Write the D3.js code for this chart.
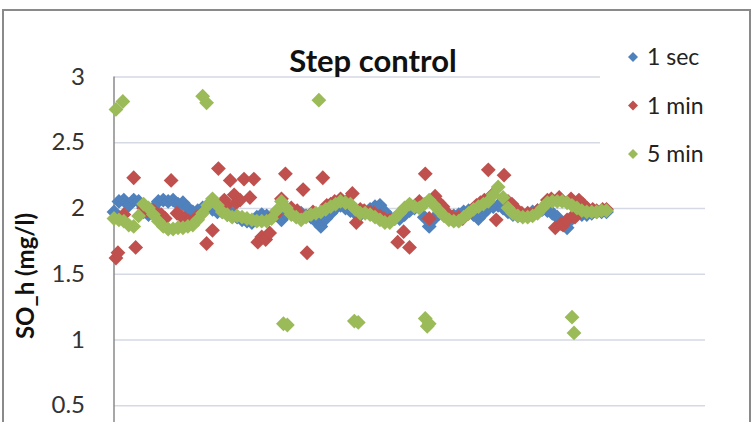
<!DOCTYPE html>
<html>
<head>
<meta charset="utf-8">
<script src="https://cdn.jsdelivr.net/npm/d3@7"></script>
<style>
    body { margin: 0; background: white; }
    text { font-family: Lato, "Liberation Sans", sans-serif; }
</style>
</head>
<body>
<script>
// time grid shared by 1 sec and 5 min (read every ~5 px off the picture)
const times = [0, 2.5, 5, 7.5, 10, 12.5, 15, 17.5, 20, 22.5, 25, 27.5, 30, 32.5, 35, 37.5, 40, 42.5, 45, 47.5,
    50, 52.5, 55, 57.5, 60, 62.5, 65, 67.5, 70, 72.5, 75, 77.5, 80, 82.5, 85, 87.5, 90, 92.5, 95, 97.5,
    100, 102.5, 105, 107.5, 110, 112.5, 115, 117.5, 120, 122.5, 125, 127.5, 130, 132.5, 135, 137.5, 140, 142.5, 145, 147.5,
    150, 152.5, 155, 157.5, 160, 162.5, 165, 167.5, 170, 172.5, 175, 177.5, 180, 182.5, 185, 187.5, 190, 192.5, 195, 197.5,
    200, 202.5, 205, 207.5, 210, 212.5, 215, 217.5, 220, 222.5, 225, 227.5, 230, 232.5, 235, 237.5, 240, 242.5, 245, 247.5, 250]

const secVals = [1.97, 2.05, 2.06, 2.02, 2.06, 2.05, 1.97, 1.95, 2.00, 2.05, 2.06, 2.05, 2.06, 2.03, 2.04, 2.00, 1.97, 1.98, 2.00, 2.02,
    1.99, 1.97, 1.97, 1.95, 1.96, 1.93, 1.91, 1.90, 1.89, 1.93, 1.95, 1.94, 1.93, 1.95, 1.91, 1.96, 1.98, 1.97, 1.96, 1.94,
    1.93, 1.90, 1.86, 1.92, 1.96, 2.00, 2.02, 2.00, 1.98, 1.96, 1.95, 1.97, 1.99, 2.01, 2.02, 1.97, 1.93, 1.92, 1.92, 1.95,
    1.98, 2.00, 2.01, 1.93, 1.86, 1.92, 1.96, 1.95, 1.93, 1.94, 1.95, 1.97, 1.98, 1.95, 1.92, 1.96, 2.00, 2.01, 2.02, 2.00,
    1.97, 1.95, 1.94, 1.94, 1.95, 1.97, 1.98, 1.99, 1.98, 1.96, 1.93, 1.88, 1.85, 1.92, 1.96, 1.95, 1.95, 1.96, 1.97, 1.97, 1.97]

const fiveVals = [1.92, 1.91, 1.90, 1.87, 1.86, 1.94, 2.03, 2.00, 1.95, 1.90, 1.86, 1.84, 1.84, 1.85, 1.85, 1.86, 1.87, 1.91, 1.96, 2.02,
    2.07, 2.02, 1.97, 1.95, 1.93, 1.94, 1.93, 1.92, 1.91, 1.90, 1.90, 1.90, 1.92, 1.98, 2.05, 2.00, 1.95, 1.93, 1.91, 1.93,
    1.95, 1.96, 1.97, 1.99, 2.01, 2.03, 2.05, 2.04, 2.03, 1.99, 1.96, 1.96, 1.95, 1.93, 1.91, 1.89, 1.89, 1.92, 1.96, 2.00,
    2.03, 2.01, 2.00, 2.03, 2.06, 2.02, 1.98, 1.94, 1.91, 1.90, 1.90, 1.93, 1.96, 1.99, 2.01, 2.03, 2.05, 2.10, 2.16, 2.08,
    2.00, 1.96, 1.94, 1.93, 1.93, 1.94, 1.96, 2.00, 2.04, 2.05, 2.05, 2.05, 2.04, 2.02, 2.00, 1.98, 1.97, 1.97, 1.97, 1.98, 1.98]

// 5 min spikes
const fiveOutT = [1, 4.5, 45, 47, 104, 86, 88, 122, 124, 158, 159, 160, 232.5, 233.5]
const fiveOutV = [2.75, 2.81, 2.85, 2.80, 2.82, 1.12, 1.11, 1.14, 1.13, 1.16, 1.10, 1.12, 1.17, 1.05]

// 1 min
const minT = [1, 2, 5, 10, 11, 15, 17, 20, 22, 24, 26, 29, 32, 34, 36, 38, 40, 42, 44, 47,
    50, 53, 56, 57, 59, 61, 62, 64, 66, 69, 71, 73, 75, 77, 79, 80, 82, 85, 87, 90,
    93, 96, 98, 101, 106, 108, 110, 112, 115, 118, 121, 123, 125, 127, 130, 132, 135, 137, 140, 144,
    147, 150, 153, 155, 158, 160, 163, 165, 167, 170, 172, 175, 177, 180, 182, 184, 186, 188, 190, 192,
    194, 198, 200, 202, 205, 207, 210, 212, 215, 217, 220, 222, 224, 226, 227, 228, 230, 232, 233, 234,
    236, 238, 240, 243, 245, 248, 250]
const minV = [1.62, 1.66, 1.95, 2.23, 1.70, 2.00, 1.98, 1.98, 1.95, 1.95, 1.92, 2.21, 1.96, 1.94, 1.92, 1.90, 1.90, 1.93, 1.95, 1.73,
    1.83, 2.30, 2.06, 2.02, 2.21, 2.10, 2.04, 2.06, 2.22, 2.08, 2.22, 1.74, 1.78, 1.76, 1.81, 1.93, 1.95, 2.07, 2.26, 2.00,
    1.98, 2.14, 1.66, 1.97, 2.23, 2.02, 2.03, 2.05, 2.07, 2.05, 2.11, 1.89, 1.99, 1.98, 1.97, 1.96, 1.94, 1.92, 1.91, 1.74,
    1.82, 1.70, 2.02, 2.05, 2.26, 1.92, 2.09, 2.04, 2.01, 1.95, 1.93, 1.93, 1.92, 1.96, 1.99, 2.02, 2.04, 2.06, 2.29, 2.10,
    1.91, 2.25, 2.05, 2.03, 1.98, 1.96, 1.96, 1.95, 1.98, 1.99, 2.06, 2.07, 1.85, 2.08, 1.88, 1.87, 1.91, 2.07, 1.94, 1.93,
    2.06, 2.03, 2.00, 1.99, 1.98, 1.99, 1.99]

const yTicks = [0.5, 1, 1.5, 2, 2.5, 3]
const names = ['1 sec', '1 min', '5 min']
const colors = ['#4F81BD', '#C0504D', '#9BBB59']

function main(){
    let svg = d3.select('body')
        .append('svg')
        .attr('width', 753)
        .attr('height', 422)
        .attr('style', 'background-color: white')

    let xScale = d3.scaleLinear()
        .domain([0, 300])
        .range([114, 705])
    let yScale = d3.scaleLinear()
        .domain([0, 3])
        .range([471, 76.5])

    // outer chart border
    svg.append('rect')
        .attr('x', 3)
        .attr('y', 10)
        .attr('width', 747)
        .attr('height', 440)
        .attr('fill', 'white')
        .attr('stroke', '#8a8a8a')
        .attr('stroke-width', 2)

    // gridlines + tick labels
    let yAxis = svg.append('g')
        .attr('transform', 'translate(114,0)')
        .call(d3.axisLeft(yScale)
            .tickValues(yTicks)
            .tickSize(-591)
            .tickPadding(29)
            .tickFormat(d3.format('')))
    yAxis.select('.domain').remove()
    yAxis.selectAll('.tick line')
        .attr('stroke', '#d5d9e3')
        .attr('stroke-width', 1.5)
    yAxis.selectAll('.tick text')
        .attr('font-size', '24px')
        .attr('fill', '#333')
        .attr('font-family', 'Lato, sans-serif')

    // axis line
    svg.append('line')
        .attr('x1', 114)
        .attr('x2', 114)
        .attr('y1', yScale(3))
        .attr('y2', 422)
        .attr('stroke', '#8a8a8a')
        .attr('stroke-width', 1.5)

    let diamond = d3.symbol().type(d3.symbolSquare).size(110)

    let series = [
        times.map((t, i) => ({t: t, v: secVals[i]})),
        minT.map((t, i) => ({t: t, v: minV[i]})),
        times.map((t, i) => ({t: t, v: fiveVals[i]}))
            .concat(fiveOutT.map((t, i) => ({t: t, v: fiveOutV[i]})))
    ]

    series.forEach(function (pts, k){
        svg.append('g')
            .selectAll('path')
            .data(pts)
            .enter()
            .append('path')
            .attr('d', diamond)
            .attr('transform', d => 'translate(' + xScale(d.t) + ',' + yScale(d.v) + ') rotate(45)')
            .attr('fill', colors[k])
    })

    // legend box sits over the plot
    let legend = svg.append('g')
    legend.append('rect')
        .attr('x', 600)
        .attr('y', 30)
        .attr('width', 140)
        .attr('height', 150)
        .attr('fill', 'white')
    let lg = legend.selectAll('g.item')
        .data(names)
        .enter()
        .append('g')
        .attr('transform', (d, i) => 'translate(633,' + (57 + i * 48.5) + ')')
    lg.append('path')
        .attr('d', d3.symbol().type(d3.symbolSquare).size(50))
        .attr('transform', 'rotate(45)')
        .attr('fill', (d, i) => colors[i])
    lg.append('text')
        .attr('x', 14)
        .attr('y', 8)
        .attr('font-size', '23px')
        .attr('fill', '#222')
        .text(d => d)

    svg.append('text')
        .attr('x', 373)
        .attr('y', 72)
        .attr('text-anchor', 'middle')
        .attr('font-size', '31px')
        .attr('font-weight', 'bold')
        .attr('fill', '#111')
        .text('Step control')

    svg.append('text')
        .attr('transform', 'translate(34,276) rotate(-90)')
        .attr('text-anchor', 'middle')
        .attr('font-size', '24px')
        .attr('font-weight', 'bold')
        .attr('fill', '#111')
        .text('SO_h (mg/l)')
}

main()
</script>
</body>
</html>
